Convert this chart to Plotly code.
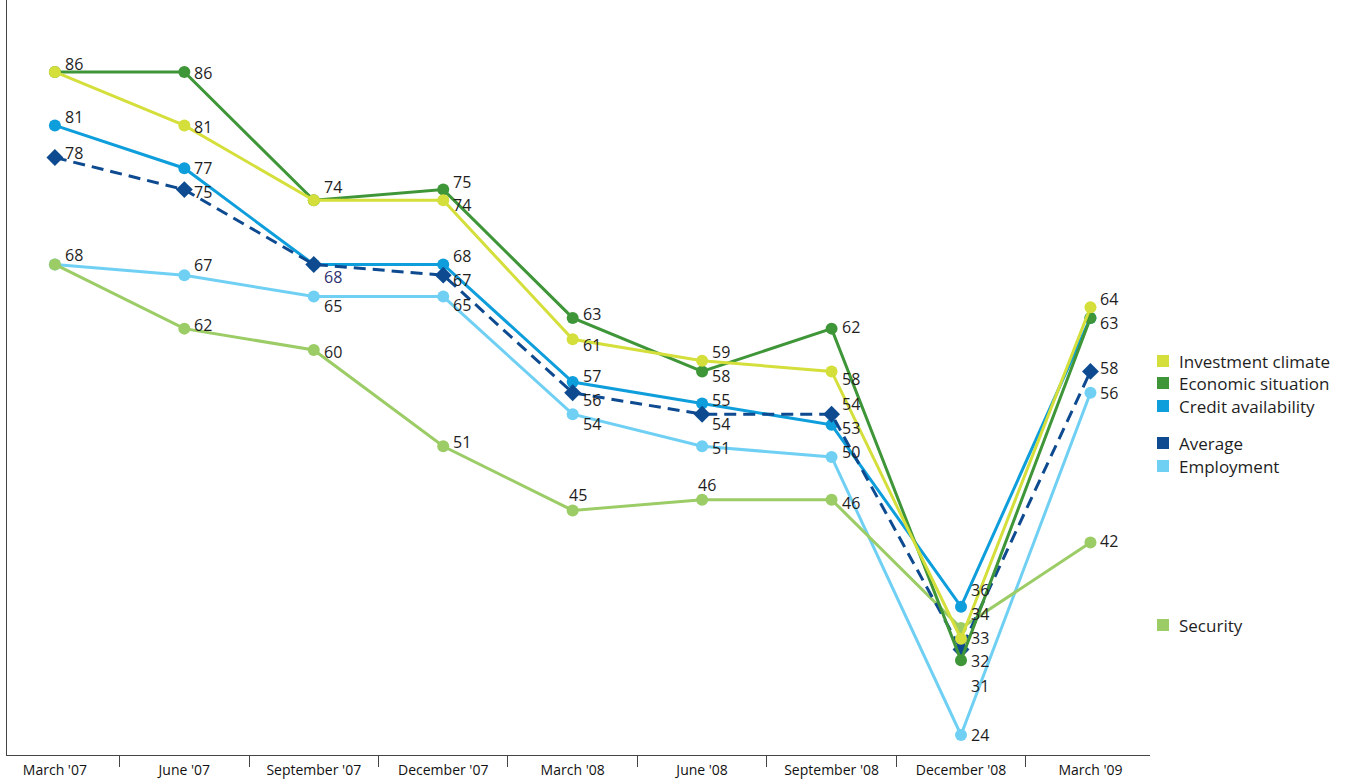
import plotly.graph_objects as go

categories = ["March '07", "June '07", "September '07", "December '07", "March '08",
              "June '08", "September '08", "December '08", "March '09"]

investment = [86, 81, 74, 74, 61, 59, 58, 33, 64]
economic = [86, 86, 74, 75, 63, 58, 62, 31, 63]
credit = [81, 77, 68, 68, 57, 55, 53, 36, 63]
average = [78, 75, 68, 67, 56, 54, 54, 32, 58]
employment = [68, 67, 65, 65, 54, 51, 50, 24, 56]
security = [68, 62, 60, 51, 45, 46, 46, 34, 42]

series_names = ["Investment climate", "Economic situation", "Credit availability",
                "Average", "Employment", "Security"]

# ---- styling ----
COL = {
    "Investment climate": "#d5df3b",
    "Economic situation": "#3f9638",
    "Credit availability": "#0e9edb",
    "Average": "#0d4a90",
    "Employment": "#70d0f4",
    "Security": "#9bcc65",
}
# label vertical nudges in px (positive = down); None = no label
LABEL_DY = {
    "Investment climate": [-8, 2, -13, 5, 6, -9, 8, -1, -8],
    "Economic situation": [None, 1, None, -8, -4, 5, -2, 26, 5],
    "Credit availability": [-8, 0, None, -8, -6, -3, 3, -17, None],
    "Average": [-5, 2, 13, 5, 7, 10, -10, 12, -3],
    "Employment": [-9, -10, 9, 8, 10, 2, -5, 0, 0],
    "Security": [None, -4, 2, -4, -15, -15, 3, -14, -2],
}
LABEL_DX = {name: [8] * 9 for name in series_names}
LABEL_DX["Security"][4] = -6
LABEL_DX["Security"][5] = -6

values = {
    "Investment climate": investment,
    "Economic situation": economic,
    "Credit availability": credit,
    "Average": average,
    "Employment": employment,
    "Security": security,
}

FONT = "Open Sans"
W, H = 1360, 781
ML, MR, MT, MB = 7, 210, 0, 26
PW, PH = W - ML - MR, H - MT - MB


def px(x):
    return (x - ML) / PW


def py(y):
    return (MT + PH - y) / PH


fig = go.Figure()

draw_order = ["Employment", "Security", "Credit availability", "Average",
              "Economic situation", "Investment climate"]
for name in draw_order:
    is_avg = name == "Average"
    fig.add_trace(go.Scatter(
        x=categories, y=values[name], name=name, mode="lines+markers",
        line=dict(color=COL[name], width=3, dash="12px,7px" if is_avg else "solid"),
        marker=dict(color=COL[name], size=13 if is_avg else 12,
                    symbol="diamond" if is_avg else "circle"),
        showlegend=False, hoverinfo="skip",
    ))

annotations = []
for name in series_names:
    for i, (cat, v) in enumerate(zip(categories, values[name])):
        dy = LABEL_DY[name][i]
        if dy is None:
            continue
        color = "#2d3170" if (name == "Average" and i == 2) else "#1e1e1e"
        annotations.append(dict(
            x=cat, y=v, xref="x", yref="y", text=str(v), showarrow=False,
            xanchor="left", yanchor="middle", xshift=LABEL_DX[name][i], yshift=-dy,
            font=dict(family=FONT, size=16, color=color),
        ))

# custom legend
legend_rows = [("Investment climate", 361), ("Economic situation", 383),
               ("Credit availability", 406), ("Average", 443),
               ("Employment", 466), ("Security", 625)]
shapes = []
for name, yc in legend_rows:
    shapes.append(dict(type="rect", xref="paper", yref="paper",
                       x0=px(1157), x1=px(1169), y0=py(yc + 6), y1=py(yc - 6),
                       fillcolor=COL[name], line=dict(width=0)))
    annotations.append(dict(x=px(1177), y=py(yc), xref="paper", yref="paper",
                            text=name, showarrow=False, xanchor="left", yanchor="middle",
                            font=dict(family=FONT, size=17, color="#1e1e1e")))

fig.update_layout(
    width=W, height=H,
    margin=dict(l=ML, r=MR, t=MT, b=MB),
    paper_bgcolor="white", plot_bgcolor="white",
    font=dict(family=FONT, color="#1e1e1e"),
    annotations=annotations, shapes=shapes,
    xaxis=dict(type="category", range=[-0.37, 8.46], showgrid=False, zeroline=False,
               showline=True, linecolor="#444", linewidth=1,
               ticks="outside", tickson="boundaries", ticklen=11, tickcolor="#444",
               tickwidth=1, ticklabelstandoff=2,
               tickfont=dict(family=FONT, size=14, color="#111")),
    yaxis=dict(range=[22.13, 92.73], showgrid=False, zeroline=False, showline=True,
               linecolor="#444", linewidth=1, showticklabels=False, ticks=""),
)

fig.write_html("out.html", config={"displayModeBar": False},
               post_script="document.body.style.margin='0';document.body.style.overflow='hidden';")
